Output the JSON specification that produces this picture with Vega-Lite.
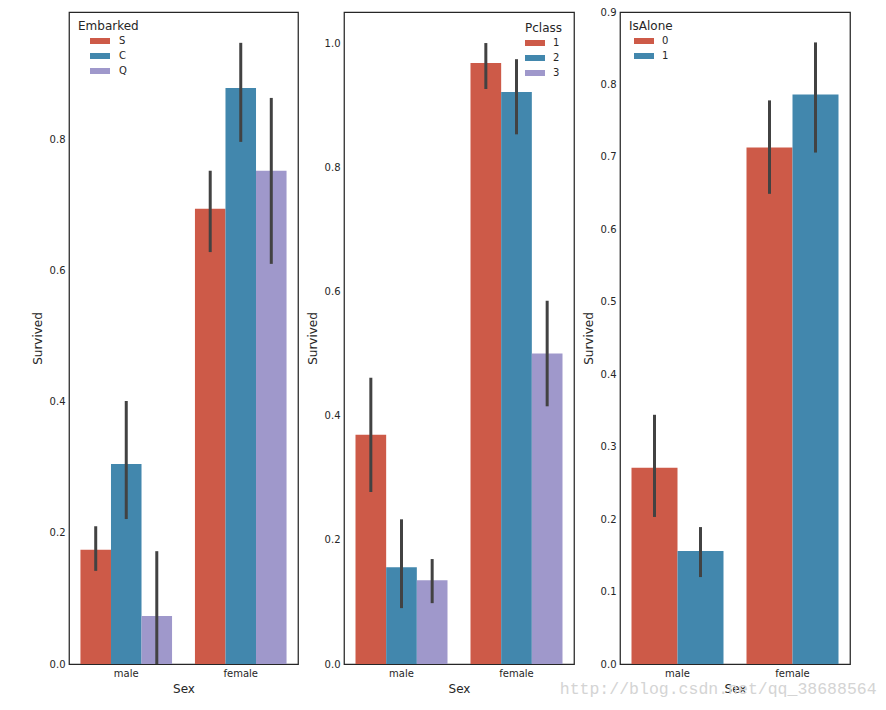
{
  "$schema": "https://vega.github.io/schema/vega-lite/v6.json",
  "background": "white",
  "padding": {"left": 30, "top": 6, "right": 5, "bottom": 5},
  "spacing": 6,
  "title": {"text": "http://blog.csdn.net/qq_38688564", "orient": "bottom", "anchor": "end", "font": "Liberation Mono", "fontSize": 16.5, "fontWeight": "normal", "color": "#d4d4d4", "offset": -14, "dx": 26},
  "config": {
    "font": "DejaVu Sans",
    "view": {"stroke": "#262626", "strokeWidth": 1.25},
    "axis": {"grid": false, "ticks": false, "domain": false, "labelFont": "DejaVu Sans", "labelFontSize": 10, "labelColor": "#262626", "titleFont": "DejaVu Sans", "titleFontSize": 12, "titleFontWeight": "normal", "titleColor": "#262626"},
    "axisX": {"labelPadding": 4, "titlePadding": 5, "labelAngle": 0},
    "axisY": {"labelPadding": 4, "titlePadding": 5},
    "legend": {"titleFont": "DejaVu Sans", "titleFontSize": 12, "titleFontWeight": "normal", "titleColor": "#262626", "labelFont": "DejaVu Sans", "labelFontSize": 10, "labelColor": "#262626", "symbolSize": 100, "symbolStrokeWidth": 0, "rowPadding": 5, "titlePadding": 3, "padding": 0}
  },
  "hconcat": [
    {
      "width": 229, "height": 652,
      "data": {"values": [
        {"Sex": "male", "Embarked": "S", "Survived": 0.174, "lo": 0.142, "hi": 0.210},
        {"Sex": "male", "Embarked": "C", "Survived": 0.305, "lo": 0.221, "hi": 0.401},
        {"Sex": "male", "Embarked": "Q", "Survived": 0.073, "lo": 0.0, "hi": 0.172},
        {"Sex": "female", "Embarked": "S", "Survived": 0.694, "lo": 0.628, "hi": 0.752},
        {"Sex": "female", "Embarked": "C", "Survived": 0.878, "lo": 0.796, "hi": 0.947},
        {"Sex": "female", "Embarked": "Q", "Survived": 0.752, "lo": 0.610, "hi": 0.863}
      ]},
      "encoding": {
        "x": {"field": "Sex", "type": "nominal", "sort": ["male", "female"], "scale": {"paddingInner": 0.2, "paddingOuter": 0.1}, "title": "Sex"},
        "xOffset": {"field": "Embarked", "type": "nominal", "scale": {"domain": ["S", "C", "Q"], "paddingInner": 0, "paddingOuter": 0}}
      },
      "layer": [
        {"mark": {"type": "bar"},
         "encoding": {
           "y": {"field": "Survived", "type": "quantitative", "scale": {"domain": [0, 0.994], "nice": false}, "axis": {"values": [0, 0.2, 0.4, 0.6, 0.8], "format": ".1f"}, "title": "Survived"},
           "color": {"field": "Embarked", "type": "nominal", "scale": {"domain": ["S", "C", "Q"], "range": ["#cd5a48", "#4287ad", "#9f98cb"]},
             "legend": {"orient": "top-left", "offset": 9, "title": "Embarked", "symbolType": "M1.4,-0.6H5.4V0.6H1.4Z", "labelOffset": 31}}
         }},
        {"mark": {"type": "rule", "color": "#424242", "strokeWidth": 3},
         "encoding": {"y": {"field": "lo", "type": "quantitative"}, "y2": {"field": "hi"}}}
      ]
    },
    {
      "width": 230, "height": 652,
      "data": {"values": [
        {"Sex": "male", "Pclass": "1", "Survived": 0.369, "lo": 0.277, "hi": 0.461},
        {"Sex": "male", "Pclass": "2", "Survived": 0.156, "lo": 0.090, "hi": 0.233},
        {"Sex": "male", "Pclass": "3", "Survived": 0.135, "lo": 0.098, "hi": 0.169},
        {"Sex": "female", "Pclass": "1", "Survived": 0.968, "lo": 0.926, "hi": 1.0},
        {"Sex": "female", "Pclass": "2", "Survived": 0.921, "lo": 0.853, "hi": 0.974},
        {"Sex": "female", "Pclass": "3", "Survived": 0.5, "lo": 0.415, "hi": 0.585}
      ]},
      "encoding": {
        "x": {"field": "Sex", "type": "nominal", "sort": ["male", "female"], "scale": {"paddingInner": 0.2, "paddingOuter": 0.1}, "title": "Sex"},
        "xOffset": {"field": "Pclass", "type": "nominal", "scale": {"domain": ["1", "2", "3"], "paddingInner": 0, "paddingOuter": 0}}
      },
      "layer": [
        {"mark": {"type": "bar"},
         "encoding": {
           "y": {"field": "Survived", "type": "quantitative", "scale": {"domain": [0, 1.05], "nice": false}, "axis": {"values": [0, 0.2, 0.4, 0.6, 0.8, 1.0], "format": ".1f"}, "title": "Survived"},
           "color": {"field": "Pclass", "type": "nominal", "scale": {"domain": ["1", "2", "3"], "range": ["#cd5a48", "#4287ad", "#9f98cb"]},
             "legend": {"orient": "top-right", "offset": 11, "title": "Pclass", "symbolType": "M-1,-0.6H3V0.6H-1Z", "labelOffset": 18}}
         }},
        {"mark": {"type": "rule", "color": "#424242", "strokeWidth": 3},
         "encoding": {"y": {"field": "lo", "type": "quantitative"}, "y2": {"field": "hi"}}}
      ]
    },
    {
      "width": 230, "height": 652,
      "data": {"values": [
        {"Sex": "male", "IsAlone": "0", "Survived": 0.271, "lo": 0.203, "hi": 0.344},
        {"Sex": "male", "IsAlone": "1", "Survived": 0.156, "lo": 0.120, "hi": 0.189},
        {"Sex": "female", "IsAlone": "0", "Survived": 0.713, "lo": 0.649, "hi": 0.778},
        {"Sex": "female", "IsAlone": "1", "Survived": 0.786, "lo": 0.706, "hi": 0.858}
      ]},
      "encoding": {
        "x": {"field": "Sex", "type": "nominal", "sort": ["male", "female"], "scale": {"paddingInner": 0.2, "paddingOuter": 0.1}, "title": "Sex"},
        "xOffset": {"field": "IsAlone", "type": "nominal", "scale": {"domain": ["0", "1"], "paddingInner": 0, "paddingOuter": 0}}
      },
      "layer": [
        {"mark": {"type": "bar"},
         "encoding": {
           "y": {"field": "Survived", "type": "quantitative", "scale": {"domain": [0, 0.9], "nice": false}, "axis": {"values": [0, 0.1, 0.2, 0.3, 0.4, 0.5, 0.6, 0.7, 0.8, 0.9], "format": ".1f"}, "title": "Survived"},
           "color": {"field": "IsAlone", "type": "nominal", "scale": {"domain": ["0", "1"], "range": ["#cd5a48", "#4287ad"]},
             "legend": {"orient": "top-left", "offset": 9, "title": "IsAlone", "symbolType": "M0,-0.6H4V0.6H0Z", "labelOffset": 23}}
         }},
        {"mark": {"type": "rule", "color": "#424242", "strokeWidth": 3},
         "encoding": {"y": {"field": "lo", "type": "quantitative"}, "y2": {"field": "hi"}}}
      ]
    }
  ],
  "resolve": {"scale": {"color": "independent", "y": "independent", "xOffset": "independent"}, "legend": {"color": "independent"}}
}
